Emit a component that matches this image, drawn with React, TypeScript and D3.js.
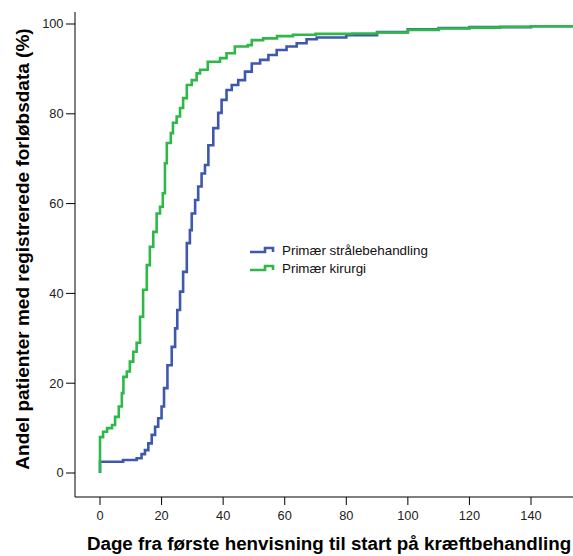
import React, { useEffect, useRef } from "react";
import * as d3 from "d3";

// dage, andel (%)
const straaleDays = [0, 0, 7.5, 11.9, 13.5, 14.6, 15.7, 16.8, 17.9, 18.9, 20, 20.8, 21.9, 23.3, 24.4, 25.1, 26, 27, 28.2, 29.2, 29.8, 30.9, 31.9, 33, 34.1, 35.2, 36.8, 38.4, 39.5, 41.1, 42.8, 44.9, 47.1, 49.3, 52, 54.7, 57.4, 60.6, 63.9, 67.1, 70.4, 80, 90, 100, 110, 120, 140, 155];
const straaleValues = [0, 2.5, 2.9, 3.3, 4.2, 5.1, 6.6, 8.5, 10.3, 12.2, 14.8, 18.9, 24, 28.1, 32.2, 36.3, 40.4, 44.8, 51.2, 54.1, 57.8, 60.8, 63.8, 66.7, 68.6, 73, 76.8, 80.2, 83.1, 85.3, 86.4, 87.5, 89.4, 91.2, 92, 93.1, 94.2, 95, 95.7, 96.6, 97, 97.5, 98.2, 98.8, 99.1, 99.3, 99.5, 99.6];

const kirurgiDays = [0, 0, 1, 2.3, 3.9, 4.9, 6.1, 7.1, 7.6, 8.7, 9.7, 10.8, 11.9, 13, 14, 15.2, 16.2, 17.3, 18.4, 19.5, 20.4, 21.1, 21.7, 23, 23.7, 24.9, 26, 27, 28.2, 29.8, 31.4, 32.5, 35, 39, 41.1, 43.8, 48, 49.3, 53, 57.5, 62.7, 70, 82, 90, 100, 110, 120, 130, 140, 155];
const kirurgiValues = [0, 8, 9.2, 10, 10.7, 12.5, 14.8, 17.8, 21.4, 22.6, 24.8, 27, 29, 34.8, 40.8, 46.3, 50.4, 53.7, 57.8, 59.3, 62.3, 69, 73.5, 75.7, 78, 79.4, 81.3, 83.5, 86.4, 87.5, 89, 89.8, 91.6, 92.4, 93.5, 95, 95.3, 96.4, 96.8, 97.3, 97.6, 97.8, 97.9, 98.1, 98.7, 99.0, 99.2, 99.4, 99.5, 99.6];

const xTicks = [0, 20, 40, 60, 80, 100, 120, 140];
const yTicks = [0, 20, 40, 60, 80, 100];

const seriesNames = ["Primær strålebehandling", "Primær kirurgi"];
const colors = ["#3E58AC", "#2EB848"];

const W = 573;
const H = 556;
const font = "'Liberation Sans', Arial, sans-serif";

const App = () => {
  const ref = useRef<SVGSVGElement>(null);

  useEffect(() => {
    const svg = d3.select(ref.current);
    svg.selectAll("*").remove();

    const left = 75, right = 573, top = 12, bottom = 497;
    const x = d3.scaleLinear().domain([0, 140]).range([100, 531]);
    const y = d3.scaleLinear().domain([0, 100]).range([473, 24]);

    // axes
    svg.append("line").attr("x1", left).attr("x2", left).attr("y1", top).attr("y2", bottom)
      .attr("stroke", "#000").attr("stroke-width", 1);
    svg.append("line").attr("x1", left).attr("x2", right).attr("y1", bottom).attr("y2", bottom)
      .attr("stroke", "#000").attr("stroke-width", 1);

    yTicks.forEach(t => {
      svg.append("line").attr("x1", left - 9).attr("x2", left).attr("y1", y(t)).attr("y2", y(t))
        .attr("stroke", "#000");
      svg.append("text").attr("x", left - 11.5).attr("y", y(t)).attr("dy", "0.35em")
        .attr("text-anchor", "end").attr("font-family", font).attr("font-size", 12.8)
        .attr("fill", "#222").text(t);
    });
    xTicks.forEach(t => {
      svg.append("line").attr("x1", x(t)).attr("x2", x(t)).attr("y1", bottom).attr("y2", bottom + 8)
        .attr("stroke", "#000");
      svg.append("text").attr("x", x(t)).attr("y", bottom + 19).attr("dy", "0.35em")
        .attr("text-anchor", "middle").attr("font-family", font).attr("font-size", 12.8)
        .attr("fill", "#222").text(t);
    });

    svg.append("text").attr("x", 329).attr("y", 550).attr("text-anchor", "middle")
      .attr("font-family", font).attr("font-size", 18.8).attr("font-weight", "bold")
      .text("Dage fra første henvisning til start på kræftbehandling");
    svg.append("text").attr("transform", `translate(28.5, 249) rotate(-90)`).attr("text-anchor", "middle")
      .attr("font-family", font).attr("font-size", 19).attr("font-weight", "bold")
      .text("Andel patienter med registrerede forløbsdata (%)");

    const line = d3.line<[number, number]>()
      .x(d => x(d[0])).y(d => y(d[1])).curve(d3.curveStepAfter);

    const series = [
      d3.zip(straaleDays, straaleValues) as [number, number][],
      d3.zip(kirurgiDays, kirurgiValues) as [number, number][],
    ];
    svg.append("clipPath").attr("id", "plotclip").append("rect")
      .attr("x", left).attr("y", 0).attr("width", right - left).attr("height", bottom);
    series.forEach((s, i) => {
      svg.append("path").attr("d", line(s)).attr("fill", "none")
        .attr("stroke", colors[i]).attr("stroke-width", 2.6)
        .attr("clip-path", "url(#plotclip)");
    });

    // legend
    seriesNames.forEach((name, i) => {
      const ly = 250 + i * 18;
      svg.append("path")
        .attr("d", `M250,${ly + 2}H265V${ly - 2}H273V${ly + 2}`)
        .attr("fill", "none").attr("stroke", colors[i]).attr("stroke-width", 2.6);
      svg.append("text").attr("x", 282).attr("y", ly).attr("dy", "0.35em")
        .attr("font-family", font).attr("font-size", 13.4).attr("fill", "#111").text(name);
    });
  }, []);

  return (
    <div style={{ position: "absolute", left: 0, top: 0, background: "#fff" }}>
      <svg ref={ref} width={W} height={H}></svg>
    </div>
  );
};

export default App;
